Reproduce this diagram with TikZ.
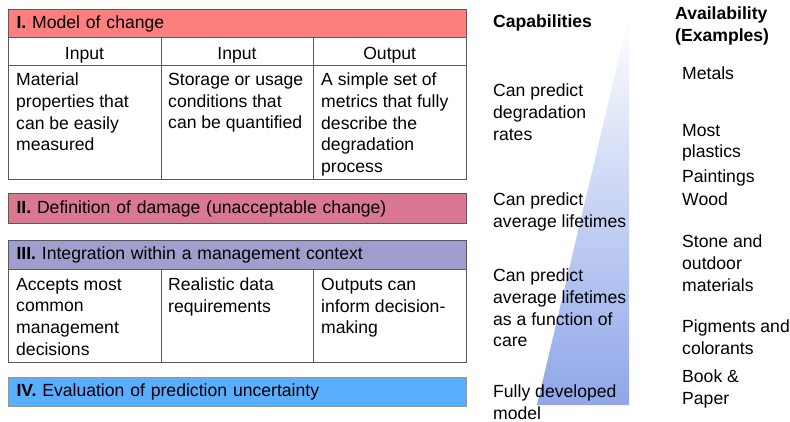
\documentclass[tikz,border=0pt]{standalone}
\usepackage{fontspec}
\setmainfont{Liberation Sans}
\begin{document}
\begin{tikzpicture}[
    x=1pt, y=-1pt,
    every node/.style={
        inner sep=0pt,
        font=\fontsize{17.6}{21.6}\selectfont
    },
    bar/.style={
        draw=black!65,
        line width=1pt,
        anchor=north west,
        minimum height=28pt,
        text width=442pt,
        inner xsep=8pt,
        align=left
    },
    cell/.style={
        draw=black!65,
        line width=1pt,
        anchor=north west,
        minimum width=152.7pt
    },
    txt/.style={anchor=north west, align=left}
]

% 색
\definecolor{modelRed}{RGB}{255,127,127}
\definecolor{damagePink}{RGB}{218,120,147}
\definecolor{contextViolet}{RGB}{160,158,204}
\definecolor{uncertBlue}{RGB}{90,174,255}
\definecolor{uncertEdge}{RGB}{156,151,112}
\definecolor{triBlue}{RGB}{143,166,232}

\useasboundingbox (0,0) rectangle (790,422);

% 삼각형
\shade[top color=white, bottom color=triBlue] (629,15) -- (629,405) -- (537,405) -- cycle;

% I
\node[bar, fill=modelRed] (modelBar) at (8,9) {\textbf{I.} Model of change};
\node[cell, minimum height=28pt] (headA) at (8,37) {};
\node[cell, minimum height=28pt] (headB) at (160.7,37) {};
\node[cell, minimum height=28pt] (headC) at (313.4,37) {};
\node[anchor=base] (headAt) at (84.5,59.6) {Input};
\node[anchor=base] (headBt) at (237,59.6) {Input};
\node[anchor=base] (headCt) at (389.7,59.6) {Output};

\node[cell, minimum height=114pt] (bodyA) at (8,65) {};
\node[cell, minimum height=114pt] (bodyB) at (160.7,65) {};
\node[cell, minimum height=114pt] (bodyC) at (313.4,65) {};
\node[txt] (bodyAt) at (16,73) {Material\\properties that\\can be easily\\measured};
\node[txt] (bodyBt) at (168,73) {Storage or usage\\conditions that\\can be quantified};
\node[txt] (bodyCt) at (321,73) {A simple set of\\metrics that fully\\describe the\\degradation\\process};

% II
\node[bar, fill=damagePink, minimum height=30pt] (damageBar) at (8,193) {\textbf{II.} Definition of damage (unacceptable change)};

% III
\node[bar, fill=contextViolet, minimum height=29pt] (contextBar) at (8,240) {\textbf{III.} Integration within a management context};
\node[cell, minimum height=93pt] (mgmtA) at (8,269) {};
\node[cell, minimum height=93pt] (mgmtB) at (160.7,269) {};
\node[cell, minimum height=93pt] (mgmtC) at (313.4,269) {};
\node[txt] (mgmtAt) at (16,278) {Accepts most\\common\\management\\decisions};
\node[txt] (mgmtBt) at (168,278) {Realistic data\\requirements};
\node[txt] (mgmtCt) at (321,278) {Outputs can\\inform decision-\\making};

% IV
\node[bar, fill=uncertBlue, draw=uncertEdge, minimum height=29pt] (uncertBar) at (8,377) {\textbf{IV.} Evaluation of prediction uncertainty};

% 능력
\node[txt, font=\fontsize{17.6}{21.6}\selectfont\bfseries] (capHead) at (493,15) {Capabilities};
\node[txt] (capA) at (493,84) {Can predict\\degradation\\rates};
\node[txt] (capB) at (493,193) {Can predict\\average lifetimes};
\node[txt] (capC) at (493,269) {Can predict\\average lifetimes\\as a function of\\care};
\node[txt] (capD) at (493,385) {Fully developed\\model};

% 예시
\node[txt, font=\fontsize{17.6}{21.6}\selectfont\bfseries] (availHead) at (675,7) {Availability\\(Examples)};
\node[txt] (exMetal) at (682,67) {Metals};
\node[txt] (exPlastic) at (682,124) {Most\\plastics};
\node[txt] (exPaint) at (682,170) {Paintings};
\node[txt] (exWood) at (682,193) {Wood};
\node[txt] (exStone) at (682,235) {Stone and\\outdoor\\materials};
\node[txt] (exPigment) at (682,320) {Pigments and\\colorants};
\node[txt] (exBook) at (682,370) {Book \&\\Paper};

\end{tikzpicture}
\end{document}
